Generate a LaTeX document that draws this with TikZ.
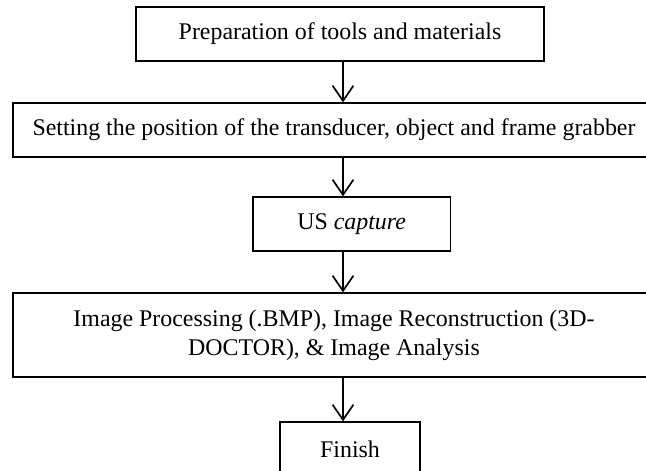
\documentclass[tikz,border=0pt]{standalone}
\usepackage{fontspec}
\setmainfont{Liberation Serif}
\usetikzlibrary{arrows.meta}

\begin{document}
\begin{tikzpicture}[
    stepbox/.style={draw, line width=0.9pt, inner sep=0pt, align=center, font=\fontsize{17}{20.5}\selectfont},
    flow/.style={line width=1.2pt, -{Straight Barb[length=0.38cm, width=0.52cm]}}
]

    \clip (0,0) rectangle (16.15,-11.75);

    \node[stepbox, minimum width=10.2cm, minimum height=1.35cm] (prep) at (8.5,-0.85) {Preparation of tools and materials};
    \node[stepbox, minimum width=16.05cm, minimum height=1.35cm] (setting) at (8.35,-3.25) {Setting the position of the transducer, object and frame grabber};
    \node[stepbox, minimum width=4.93cm, minimum height=1.35cm] (capture) at (8.79,-5.6) {US \textit{capture}};
    \node[stepbox, minimum width=16.05cm, minimum height=2.1cm] (processing) at (8.35,-8.375) {Image Processing (.BMP), Image Reconstruction (3D-\\DOCTOR), \& Image Analysis};
    \node[stepbox, minimum width=3.5cm, minimum height=1.35cm] (finish) at (8.75,-11.225) {Finish};

    % arrows all run down one vertical line
    \coordinate (axis) at (8.575,0);
    \draw[flow] (prep.south -| axis) -- (setting.north -| axis);
    \draw[flow] (setting.south -| axis) -- (capture.north -| axis);
    \draw[flow] (capture.south -| axis) -- (processing.north -| axis);
    \draw[flow] (processing.south -| axis) -- (finish.north -| axis);

\end{tikzpicture}
\end{document}
